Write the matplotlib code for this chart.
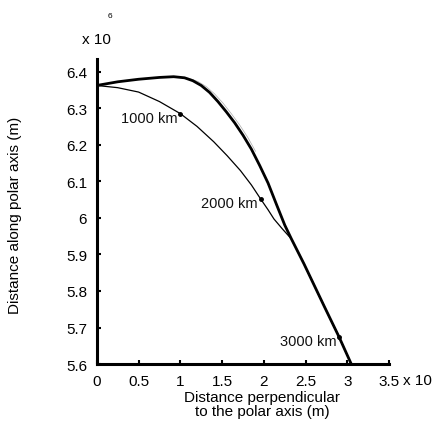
import matplotlib.pyplot as plt

plt.rcParams['font.family'] = ['Liberation Sans', 'DejaVu Sans']

# outer curve (thick), x in 1e6 m, y in 1e6 m
outer_x = [0.0, 0.25, 0.5, 0.75, 0.92, 1.05, 1.15, 1.25, 1.35, 1.45, 1.55, 1.65, 1.75,
           1.85, 1.95, 2.05, 2.15, 2.25, 2.33, 2.48, 2.72, 2.90, 3.04]
outer_y = [6.362, 6.372, 6.379, 6.384, 6.386, 6.383, 6.375, 6.362, 6.343, 6.318, 6.290, 6.260, 6.226,
           6.188, 6.143, 6.095, 6.037, 5.980, 5.942, 5.874, 5.759, 5.674, 5.603]

# faint companion trace next to the outer curve
faint_x = [0.95, 1.10, 1.21, 1.31, 1.41, 1.51, 1.61, 1.71, 1.81, 1.90]
faint_y = [6.386, 6.382, 6.373, 6.359, 6.339, 6.314, 6.285, 6.254, 6.219, 6.182]

# inner curve with distance markers
inner_x = [0.0, 0.25, 0.5, 0.75, 1.0, 1.2, 1.4, 1.56, 1.72, 1.85, 1.96, 2.05, 2.12, 2.22,
           2.33, 2.48, 2.72, 2.90, 3.04]
inner_y = [6.362, 6.356, 6.344, 6.318, 6.285, 6.250, 6.208, 6.170, 6.129, 6.090, 6.052, 6.022, 5.997, 5.970,
           5.942, 5.874, 5.759, 5.674, 5.603]

mark_x = [1.0, 1.96, 2.90]
mark_y = [6.285, 6.052, 5.674]
mark_lbl = ['1000 km', '2000 km', '3000 km']

xticks = [0, 0.5, 1, 1.5, 2, 2.5, 3, 3.5]
xtick_lbl = ['0', '0.5', '1', '1.5', '2', '2.5', '3', '3.5']
yticks = [5.6, 5.7, 5.8, 5.9, 6.0, 6.1, 6.2, 6.3, 6.4]
ytick_lbl = ['5.6', '5.7', '5.8', '5.9', '6', '6.1', '6.2', '6.3', '6.4']

fig = plt.figure(figsize=(4.32, 4.27), dpi=100)
ax = fig.add_axes([0.224, 0.145, 0.677, 0.715])

ax.plot(faint_x, faint_y, color='#aaaaaa', lw=0.5)
ax.plot(outer_x, outer_y, color='black', lw=2.0)
ax.plot(inner_x, inner_y, color='black', lw=0.9)
ax.plot(mark_x, mark_y, 'o', color='black', ms=2.5)
for mx, my, t in zip(mark_x, mark_y, mark_lbl):
    ax.text(mx - 0.03, my - 0.012, t, ha='right', va='center', fontsize=10.5, color='#111111')

ax.set_xlim(0, 3.5)
ax.set_ylim(5.6, 6.435)
ax.set_xticks(xticks)
ax.set_xticklabels(xtick_lbl)
ax.set_yticks(yticks)
ax.set_yticklabels(ytick_lbl)
ax.tick_params(direction='in', length=3, width=1.5, labelsize=11, pad=7)

for s in ['top', 'right']:
    ax.spines[s].set_visible(False)
for s in ['left', 'bottom']:
    ax.spines[s].set_linewidth(2.2)

fig.text(15 / 432, 1 - 215 / 427, 'Distance along polar axis (m)', rotation=90,
         ha='center', va='center', fontsize=11)
fig.text(262 / 432, 1 - 405 / 427, 'Distance perpendicular\nto the polar axis (m)',
         ha='center', va='center', fontsize=11, linespacing=1.05)
fig.text(96 / 432, 1 - 40 / 427, 'x 10', ha='center', va='center', fontsize=11)
fig.text(110 / 432, 1 - 16 / 427, '6', ha='center', va='center', fontsize=6)
fig.text(417 / 432, 1 - 381 / 427, 'x 10', ha='center', va='center', fontsize=11)

fig.savefig('out.png', dpi=100)
